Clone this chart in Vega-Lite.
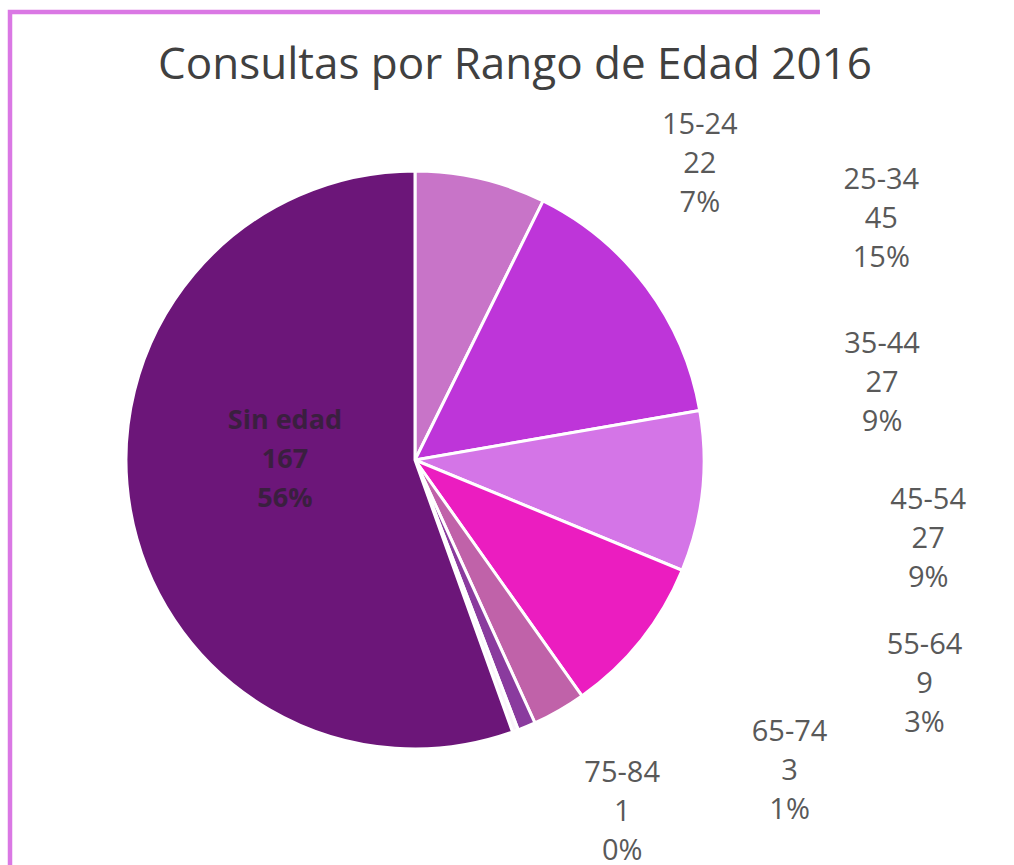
{
  "$schema": "https://vega.github.io/schema/vega-lite/v6.json",
  "width": 810,
  "height": 896,
  "autosize": {"type": "none"},
  "padding": {"left": 10, "top": 12, "right": 194, "bottom": 0},
  "background": "white",
  "view": {"stroke": "#DA78E4", "strokeWidth": 4.5, "strokeDash": [810, 1706, 896, 10]},
  "title": {
    "text": "Consultas por Rango de Edad 2016",
    "font": "Open Sans",
    "fontSize": 44,
    "fontWeight": "normal",
    "color": "#404040",
    "anchor": "middle",
    "baseline": "alphabetic",
    "offset": -106,
    "dy": 43,
    "dx": 100
  },
  "data": {
    "values": [
      {"rango": "15-24", "consultas": 22, "porcentaje": 7},
      {"rango": "25-34", "consultas": 45, "porcentaje": 15},
      {"rango": "35-44", "consultas": 27, "porcentaje": 9},
      {"rango": "45-54", "consultas": 27, "porcentaje": 9},
      {"rango": "55-64", "consultas": 9, "porcentaje": 3},
      {"rango": "65-74", "consultas": 3, "porcentaje": 1},
      {"rango": "75-84", "consultas": 1, "porcentaje": 0},
      {"rango": "Sin edad", "consultas": 167, "porcentaje": 56}
    ]
  },
  "transform": [
    {"calculate": "datum.rango + '\\n' + datum.consultas + '\\n' + datum.porcentaje + '%'", "as": "etiqueta"}
  ],
  "encoding": {
    "theta": {"field": "consultas", "type": "quantitative", "stack": true}
  },
  "layer": [
    {
      "mark": {"type": "arc", "outerRadius": 289, "stroke": "white", "strokeWidth": 3},
      "encoding": {
        "color": {
          "field": "rango",
          "type": "nominal",
          "scale": {
            "domain": ["15-24", "25-34", "35-44", "45-54", "55-64", "65-74", "75-84", "Sin edad"],
            "range": ["#C874C8", "#BE35D9", "#D475E7", "#EB1DC0", "#C062A9", "#8A3B9E", "#FAF4FA", "#6C1679"]
          },
          "legend": null
        }
      }
    },
    {
      "mark": {"type": "text", "radius": 320, "dx": 212, "dy": -23, "align": "center", "baseline": "middle", "lineBreak": "\n", "lineHeight": 39, "font": "Open Sans", "fontSize": 29, "fill": "#595959"},
      "encoding": {"text": {"condition": {"test": "datum.rango === '15-24'", "field": "etiqueta"}, "value": ""}}
    },
    {
      "mark": {"type": "text", "radius": 320, "dx": 210, "dy": -88, "align": "center", "baseline": "middle", "lineBreak": "\n", "lineHeight": 39, "font": "Open Sans", "fontSize": 29, "fill": "#595959"},
      "encoding": {"text": {"condition": {"test": "datum.rango === '25-34'", "field": "etiqueta"}, "value": ""}}
    },
    {
      "mark": {"type": "text", "radius": 320, "dx": 149, "dy": -151, "align": "center", "baseline": "middle", "lineBreak": "\n", "lineHeight": 39, "font": "Open Sans", "fontSize": 29, "fill": "#595959"},
      "encoding": {"text": {"condition": {"test": "datum.rango === '35-44'", "field": "etiqueta"}, "value": ""}}
    },
    {
      "mark": {"type": "text", "radius": 320, "dx": 263, "dy": -160, "align": "center", "baseline": "middle", "lineBreak": "\n", "lineHeight": 39, "font": "Open Sans", "fontSize": 29, "fill": "#595959"},
      "encoding": {"text": {"condition": {"test": "datum.rango === '45-54'", "field": "etiqueta"}, "value": ""}}
    },
    {
      "mark": {"type": "text", "radius": 320, "dx": 350, "dy": -92, "align": "center", "baseline": "middle", "lineBreak": "\n", "lineHeight": 39, "font": "Open Sans", "fontSize": 29, "fill": "#595959"},
      "encoding": {"text": {"condition": {"test": "datum.rango === '55-64'", "field": "etiqueta"}, "value": ""}}
    },
    {
      "mark": {"type": "text", "radius": 320, "dx": 251, "dy": -23, "align": "center", "baseline": "middle", "lineBreak": "\n", "lineHeight": 39, "font": "Open Sans", "fontSize": 29, "fill": "#595959"},
      "encoding": {"text": {"condition": {"test": "datum.rango === '65-74'", "field": "etiqueta"}, "value": ""}}
    },
    {
      "mark": {"type": "text", "radius": 320, "dx": 96, "dy": 13, "align": "center", "baseline": "middle", "lineBreak": "\n", "lineHeight": 39, "font": "Open Sans", "fontSize": 29, "fill": "#595959"},
      "encoding": {"text": {"condition": {"test": "datum.rango === '75-84'", "field": "etiqueta"}, "value": ""}}
    },
    {
      "mark": {"type": "text", "radius": 130, "dx": -2, "dy": -61, "align": "center", "baseline": "middle", "lineBreak": "\n", "lineHeight": 39, "font": "Open Sans", "fontSize": 27, "fontWeight": "bold", "fill": "#3A1F3F"},
      "encoding": {"text": {"condition": {"test": "datum.rango === 'Sin edad'", "field": "etiqueta"}, "value": ""}}
    }
  ]
}
